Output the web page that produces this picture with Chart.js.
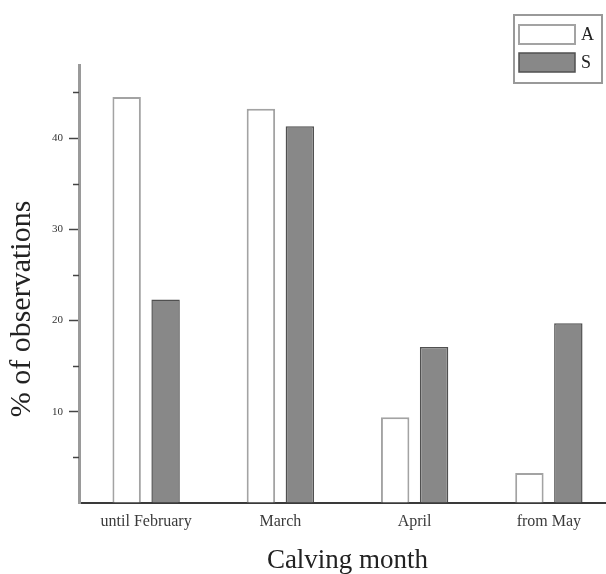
<!DOCTYPE html>
<html>
<head>
<meta charset="utf-8">
<script src="https://cdn.jsdelivr.net/npm/chart.js@4/dist/chart.umd.min.js"></script>
<style>
  html, body { margin: 0; padding: 0; background: #fff; }
  #wrap { width: 606px; height: 574px; overflow: hidden; position: relative; }
  canvas { display: block; }
</style>
</head>
<body>
<div id="wrap">
  <canvas id="calving" width="620" height="574"></canvas>
</div>
<script>
  /* data */
  const months = ["until February", "March", "April", "from May"];
  const groupA = [44.5, 43.2, 9.4, 3.3];
  const groupS = [22.3, 41.3, 17.1, 19.7];
  const minorTicks = [5, 15, 25, 35, 45];

  const SERIF = "'Liberation Serif', 'DejaVu Serif', serif";

  // short minor tick marks on the value axis
  const minorTickPlugin = {
    id: "minorTicks",
    afterDraw(chart) {
      const y = chart.scales.y;
      const ctx = chart.ctx;
      ctx.save();
      ctx.strokeStyle = "#444";
      ctx.lineWidth = 1.5;
      minorTicks.forEach(v => {
        const py = Math.round(y.getPixelForValue(v)) + 0.5;
        ctx.beginPath();
        ctx.moveTo(y.right - 6, py);
        ctx.lineTo(y.right, py);
        ctx.stroke();
      });
      ctx.restore();
    }
  };

  // axis titles + boxed legend
  const decorPlugin = {
    id: "decor",
    afterDraw(chart) {
      const ctx = chart.ctx;
      const area = chart.chartArea;
      ctx.save();
      ctx.fillStyle = "#222";
      ctx.font = "27px " + SERIF;
      ctx.textAlign = "center";
      ctx.textBaseline = "alphabetic";
      ctx.fillText("Calving month", (area.left + area.right) / 2, 568);

      ctx.font = "30px " + SERIF;
      ctx.textBaseline = "middle";
      ctx.translate(22, 309);
      ctx.rotate(-Math.PI / 2);
      ctx.fillText("% of observations", 0, 0);
      ctx.restore();

      // legend box
      ctx.save();
      ctx.strokeStyle = "#999";
      ctx.lineWidth = 2;
      ctx.strokeRect(514, 15, 88, 68);

      chart.data.datasets.forEach((ds, i) => {
        const top = i === 0 ? 25 : 53;
        ctx.fillStyle = ds.backgroundColor;
        ctx.fillRect(519, top, 56, 19);
        ctx.strokeStyle = ds.borderColor;
        ctx.lineWidth = ds.borderWidth;
        ctx.strokeRect(519, top, 56, 19);
        ctx.fillStyle = "#222";
        ctx.font = "18px " + SERIF;
        ctx.textAlign = "left";
        ctx.textBaseline = "middle";
        ctx.fillText(ds.label, 581, top + 10);
      });
      ctx.restore();
    }
  };

  const chart = new Chart(document.getElementById("calving"), {
    type: "bar",
    data: {
      labels: months,
      datasets: [
        {
          label: "A",
          data: groupA,
          backgroundColor: "#ffffff",
          borderColor: "#a3a3a3",
          borderWidth: 2,
          barPercentage: 0.73,
          categoryPercentage: 0.58
        },
        {
          label: "S",
          data: groupS,
          backgroundColor: "#888888",
          borderColor: "#505050",
          borderWidth: 1.5,
          barPercentage: 0.73,
          categoryPercentage: 0.58
        }
      ]
    },
    options: {
      responsive: false,
      animation: false,
      layout: { padding: { left: 0, top: 65, right: 4, bottom: 0 } },
      plugins: {
        legend: { display: false },
        tooltip: { enabled: false }
      },
      scales: {
        x: {
          grid: { display: false, drawTicks: false },
          border: { display: true, color: "#3a3a3a", width: 2 },
          ticks: {
            color: "#3a3a3a",
            font: { family: SERIF, size: 16 },
            padding: 9,
            maxRotation: 0,
            autoSkip: false
          },
          afterFit(scale) { scale.height = 71; }
        },
        y: {
          min: 0,
          max: 48,
          grid: {
            drawOnChartArea: false,
            tickLength: 10,
            tickWidth: 1.5,
            tickColor: c =>
              c.tick && c.tick.value > 0 && c.tick.value % 10 === 0 ? "#444" : "rgba(0,0,0,0)"
          },
          border: { display: true, color: "#9a9a9a", width: 3 },
          ticks: {
            stepSize: 10,
            padding: 6,
            color: "#333",
            font: { family: SERIF, size: 11 },
            callback: v => (v > 0 && v % 10 === 0 ? v : "")
          },
          afterFit(scale) { scale.width = 79; }
        }
      }
    },
    plugins: [minorTickPlugin, decorPlugin]
  });
</script>
</body>
</html>
